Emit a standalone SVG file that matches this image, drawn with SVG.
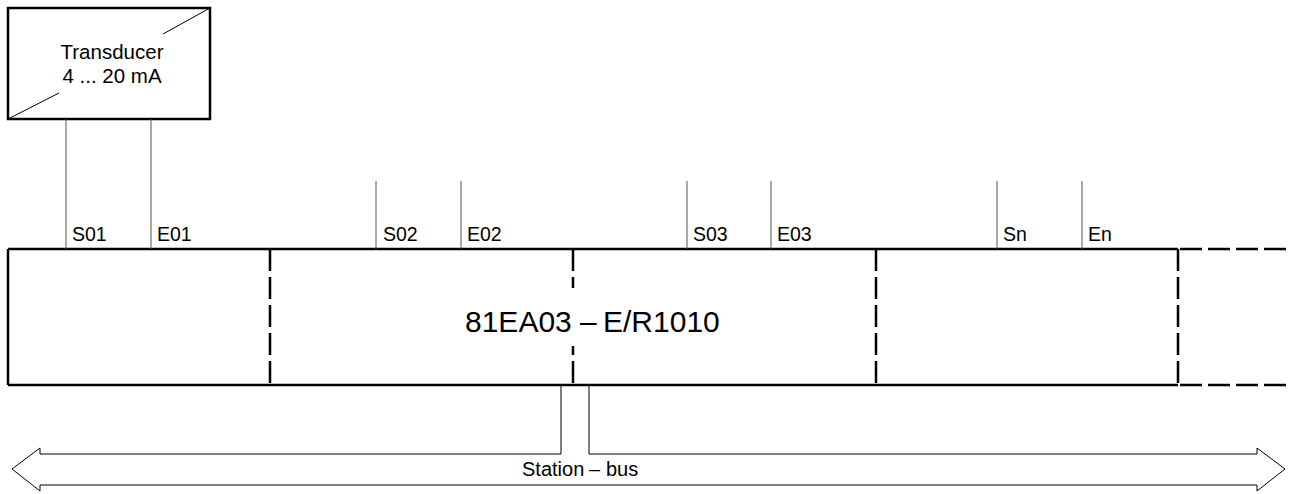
<svg xmlns="http://www.w3.org/2000/svg" width="1289" height="494" viewBox="0 0 1289 494">
<style>
text{font-family:"Liberation Sans",Arial,sans-serif;fill:#000}
.thin{stroke:#555;stroke-width:1;fill:none}
.bold{stroke:#000;stroke-width:2.5;fill:none}
.dash{stroke:#000;stroke-width:2.5;fill:none;stroke-dasharray:22 6}
.lbl{font-size:19.5px}
</style>
<rect width="1289" height="494" fill="#fff"/>
<g id="transducer">
<rect x="8" y="8" width="202" height="111" fill="#fff" stroke="#000" stroke-width="2.5"/>
<line x1="210" y1="8" x2="163" y2="34" stroke="#000" stroke-width="1"/>
<line x1="8" y1="119" x2="59" y2="93" stroke="#000" stroke-width="1"/>
<text x="112" y="59" font-size="20.5" text-anchor="middle">Transducer</text>
<text x="112" y="83" font-size="20.5" text-anchor="middle">4 ... 20 mA</text>
</g>
<g id="module">
<line class="bold" x1="8" y1="249" x2="1178" y2="249"/>
<line class="bold" x1="8" y1="385" x2="1178" y2="385"/>
<line class="bold" x1="8" y1="249" x2="8" y2="385"/>
<line class="dash" x1="270" y1="249" x2="270" y2="385"/>
<line class="dash" x1="573" y1="249" x2="573" y2="385"/>
<line class="dash" x1="876" y1="249" x2="876" y2="385"/>
<line class="dash" x1="1178" y1="249" x2="1178" y2="385"/>
<line class="dash" x1="1178" y1="249" x2="1289" y2="249" stroke-dashoffset="-2"/>
<line class="dash" x1="1178" y1="385" x2="1289" y2="385" stroke-dashoffset="-2"/>
<rect x="460" y="288" width="268" height="58" fill="#fff"/>
<text y="332" font-size="30"><tspan x="465">81EA03</tspan><tspan x="580">–</tspan><tspan x="603">E/R1010</tspan></text>
</g>
<g id="terminals">
<text class="lbl" x="72" y="241">S01</text>
<text class="lbl" x="157" y="241">E01</text>
<text class="lbl" x="383" y="241">S02</text>
<text class="lbl" x="467" y="241">E02</text>
<text class="lbl" x="693" y="241">S03</text>
<text class="lbl" x="777" y="241">E03</text>
<text class="lbl" x="1003" y="241">Sn</text>
<text class="lbl" x="1088" y="241">En</text>
</g>
<g id="bus">
<path d="M561 454 L40 454 L40 448 L12 469 L40 491 L40 485 L1257 485 L1257 491 L1285 469 L1257 448 L1257 454 L589 454" fill="none" stroke="#000" stroke-width="1"/>
<text y="476" font-size="20"><tspan x="522">Station</tspan><tspan x="589">–</tspan><tspan x="606">bus</tspan></text>
</g>
<g id="connectors">
<line class="thin" x1="66" y1="119" x2="66" y2="249"/>
<line class="thin" x1="151" y1="119" x2="151" y2="249"/>
<line class="thin" x1="376" y1="181" x2="376" y2="249"/>
<line class="thin" x1="461" y1="181" x2="461" y2="249"/>
<line class="thin" x1="687" y1="181" x2="687" y2="249"/>
<line class="thin" x1="771" y1="181" x2="771" y2="249"/>
<line class="thin" x1="997" y1="181" x2="997" y2="249"/>
<line class="thin" x1="1082" y1="181" x2="1082" y2="249"/>
<line x1="561" y1="386" x2="561" y2="454" stroke="#000" stroke-width="1"/>
<line x1="589" y1="386" x2="589" y2="454" stroke="#000" stroke-width="1"/>
</g>
</svg>
